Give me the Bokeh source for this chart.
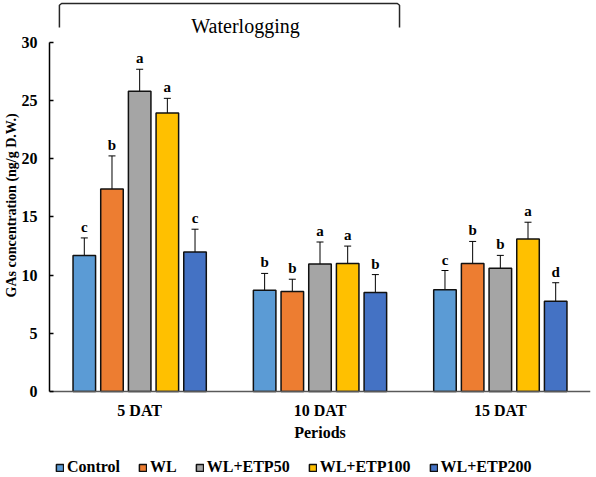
from bokeh.plotting import figure
from bokeh.models import (Range1d, FactorRange, ColumnDataSource, Whisker, TeeHead,
                          Label, FixedTicker, Legend, LegendItem, Title)
from bokeh.transform import dodge
from bokeh.core.properties import value
from bokeh.embed import file_html
from bokeh.resources import INLINE

# ---------------- data ----------------
periods = ["5 DAT", "10 DAT", "15 DAT"]
treatments = ["Control", "WL", "WL+ETP50", "WL+ETP100", "WL+ETP200"]

control = [11.7, 8.7, 8.75]
wl = [17.4, 8.6, 11.0]
wl_etp50 = [25.8, 10.95, 10.6]
wl_etp100 = [23.95, 11.0, 13.1]
wl_etp200 = [12.0, 8.5, 7.75]

control_err = [1.5, 1.45, 1.65]
wl_err = [2.85, 1.05, 1.9]
wl_etp50_err = [1.9, 1.9, 1.1]
wl_etp100_err = [1.25, 1.5, 1.45]
wl_etp200_err = [1.95, 1.55, 1.6]

control_letters = ["c", "b", "c"]
wl_letters = ["b", "b", "b"]
wl_etp50_letters = ["a", "a", "b"]
wl_etp100_letters = ["a", "a", "a"]
wl_etp200_letters = ["c", "b", "d"]

y_ticks = [0, 5, 10, 15, 20, 25, 30]
y_label = "GAs concentration (ng/g D.W.)"
x_label = "Periods"
bracket_label = "Waterlogging"

colors = ["#5B9BD5", "#ED7D31", "#A5A5A5", "#FFC000", "#4472C4"]
FONT = "Liberation Serif"

series = [control, wl, wl_etp50, wl_etp100, wl_etp200]
errors = [control_err, wl_err, wl_etp50_err, wl_etp100_err, wl_etp200_err]
letters = [control_letters, wl_letters, wl_etp50_letters, wl_etp100_letters, wl_etp200_letters]

data = {"period": periods}
for i in range(5):
    data[f"v{i}"] = series[i]
    data[f"u{i}"] = [v + e for v, e in zip(series[i], errors[i])]
    data[f"l{i}"] = [v - e for v, e in zip(series[i], errors[i])]
    data[f"t{i}"] = letters[i]
src = ColumnDataSource(data)

# ---------------- figure ----------------
W, H = 596, 477
p = figure(x_range=FactorRange(*periods), y_range=Range1d(-7.393, 33.61),
           width=W, height=H, title=None, toolbar_location=None,
           output_backend="svg", min_border_left=49, min_border_right=6,
           min_border_top=0, min_border_bottom=0)
p.outline_line_color = None
p.xgrid.visible = False
p.ygrid.visible = False
p.background_fill_color = "white"

offsets = [-0.307, -0.1535, 0.0, 0.1535, 0.307]
bar_w = 0.125

renderers = []
for i in range(5):
    r = p.vbar(x=dodge("period", offsets[i], range=p.x_range), top=f"v{i}", width=bar_w,
               source=src, fill_color=colors[i], line_color="#111111", line_width=1.5)
    renderers.append(r)
    w = Whisker(base=dodge("period", offsets[i], range=p.x_range), upper=f"u{i}", lower=f"l{i}",
                source=src, line_color="black", line_width=1,
                upper_head=TeeHead(size=7, line_color="black", line_width=1),
                lower_head=TeeHead(size=7, line_color="black", line_width=1))
    p.add_layout(w)
    p.text(x=dodge("period", offsets[i], range=p.x_range), y=f"u{i}", text=f"t{i}",
           text_align="center", text_baseline="bottom", y_offset=-3,
           text_font=value(FONT), text_font_style="bold", text_font_size="15px",
           text_color="black", source=src)

# axes
p.xaxis.fixed_location = 0
p.xaxis.axis_line_color = "#595959"
p.xaxis.axis_line_width = 1.5
p.xaxis.major_tick_in = 0
p.xaxis.major_tick_out = 0
p.xaxis.major_label_standoff = 11
p.xaxis.major_label_text_font = FONT
p.xaxis.major_label_text_font_style = "bold"
p.xaxis.major_label_text_font_size = "16px"
p.xaxis.major_label_text_color = "black"

p.yaxis.ticker = FixedTicker(ticks=y_ticks)
p.yaxis.bounds = (0, 30)
p.yaxis.axis_line_color = "black"
p.yaxis.axis_line_width = 1.5
p.yaxis.major_tick_in = 4
p.yaxis.major_tick_out = 0
p.yaxis.major_tick_line_width = 1.5
p.yaxis.minor_tick_in = 0
p.yaxis.minor_tick_out = 0
p.yaxis.major_label_standoff = 12
p.yaxis.major_label_text_font = FONT
p.yaxis.major_label_text_font_style = "bold"
p.yaxis.major_label_text_font_size = "16px"
p.yaxis.major_label_text_color = "black"

# y axis title as a left-side title, starting near the bottom of the 0-30 span
ytitle = Title(text=y_label, align="left", offset=180, standoff=0,
               text_font=FONT, text_font_style="bold", text_font_size="14px",
               text_color="black")
p.add_layout(ytitle, "left")

# x axis title
p.add_layout(Label(x=1.5, y=-3.52, text=x_label, text_align="center", text_baseline="middle",
                   text_font=FONT, text_font_style="bold", text_font_size="16px",
                   text_color="black"))

# waterlogging bracket
bx0, bx1, btop, bbot, r = 0.055, 1.941, 33.35, 31.29, 0.012
p.line(x=[bx0, bx0, bx0 + r, bx1 - r, bx1, bx1],
       y=[bbot, btop - 0.15, btop, btop, btop - 0.15, bbot],
       line_color="#262626", line_width=1.5)
p.text(x=[1.087], y=[31.38], text=[bracket_label], text_align="center",
       text_baseline="alphabetic", text_font=value(FONT), text_font_size="20px",
       text_color="black")

legend = Legend(items=[LegendItem(label=t, renderers=[r_]) for t, r_ in zip(treatments, renderers)],
                orientation="horizontal", location=(6, 1), glyph_width=9, glyph_height=9,
                label_height=16, label_standoff=3, spacing=18, padding=0, margin=0,
                border_line_color=None, background_fill_alpha=0,
                label_text_font=FONT, label_text_font_style="bold",
                label_text_font_size="16px", label_text_color="black")
p.add_layout(legend)

open("out.html", "w").write(file_html(p, INLINE))
